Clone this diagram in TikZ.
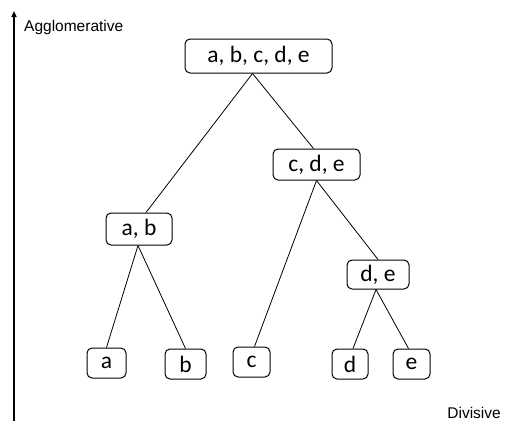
\documentclass[tikz,border=0pt]{standalone}
\usepackage{fontspec}
\setmainfont{Liberation Sans}
\newfontfamily\boxfont{Carlito}
\usetikzlibrary{arrows.meta}
\tikzset{
  clusterbox/.style={draw, rounded corners=5pt, line width=1pt, inner sep=0pt,
    font=\boxfont\fontsize{23.5}{25}\selectfont, anchor=center},
  link/.style={line width=0.8pt},
  axislabel/.style={font=\fontsize{15.5}{17}\selectfont, inner sep=0pt}
}
\begin{document}
\begin{tikzpicture}[x=1pt,y=-1pt]
\useasboundingbox (0,0) rectangle (511,421);
% nodes
\node[clusterbox, minimum width=147pt, minimum height=34pt] (abcde) at (258.5,56) {a, b, c, d, e};
\node[clusterbox, minimum width=87pt, minimum height=31pt] (cde) at (316.5,164.5) {c, d, e};
\node[clusterbox, minimum width=66pt, minimum height=32pt] (ab) at (139,229) {a, b};
\node[clusterbox, minimum width=62pt, minimum height=29pt] (de) at (378,274.5) {d, e};
\node[clusterbox, minimum width=39pt, minimum height=30pt] (a) at (106.5,363) {a};
\node[clusterbox, minimum width=41pt, minimum height=30pt] (b) at (185.5,364) {b};
\node[clusterbox, minimum width=37pt, minimum height=30pt] (c) at (251.5,362) {c};
\node[clusterbox, minimum width=36pt, minimum height=30pt] (d) at (350,364) {d};
\node[clusterbox, minimum width=37pt, minimum height=30pt] (e) at (411.5,364) {e};
% connectors
\draw[link] ([xshift=-6pt]abcde.south) -- ([xshift=7pt]ab.north);
\draw[link] ([xshift=-6pt]abcde.south) -- ([xshift=-3pt]cde.north);
\draw[link] ([xshift=-1pt]ab.south) -- (a.north);
\draw[link] ([xshift=-1pt]ab.south) -- (b.north);
\draw[link] (cde.south) -- ([xshift=3pt]c.north);
\draw[link] (cde.south) -- (de.north);
\draw[link] ([xshift=-2pt]de.south) -- ([xshift=3pt]d.north);
\draw[link] ([xshift=-2pt]de.south) -- ([xshift=-3pt]e.north);
% axis
\coordinate (axbot) at (14,421);
\coordinate (axtop) at (14,11);
\draw[line width=1.5pt, -{Triangle[length=6pt,width=5pt]}] (axbot) -- (axtop);
\node[axislabel, anchor=west] (agg) at (24,27) {Agglomerative};
\node[axislabel, anchor=east] (div) at (501,413) {Divisive};
\end{tikzpicture}
\end{document}
